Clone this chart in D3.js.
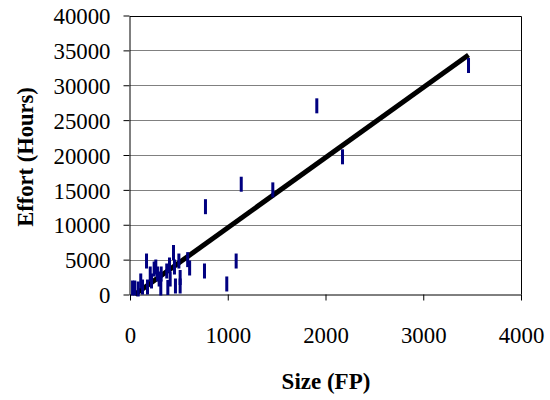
<!DOCTYPE html>
<html><head><meta charset="utf-8">
<script src="https://cdn.jsdelivr.net/npm/d3@7/dist/d3.min.js"></script>
<style>body{margin:0;background:#fff}svg{display:block}</style>
</head><body><svg id="c" width="550" height="400"></svg>
<script>
const sizeFP = [26,49,84,110,128,169,179,207,220,247,264,281,298,315,319,376,387,404,411,445,455,465,500,513,513,590,610,762,772,990,1086,1138,1461,1911,2174,3463];
const effortHours = [930,930,790,1940,1070,4800,1070,2940,1940,3650,3940,2940,2220,930,2940,3370,1000,4230,2220,6020,3940,1220,4800,2440,1220,5000,3800,3370,12590,1510,4800,15810,15000,27050,19740,32830];
const trendX = [49, 3463];
const trendY = [0, 34340];
const xTicks = [0,1000,2000,3000,4000];
const yTicks = [0,5000,10000,15000,20000,25000,30000,35000,40000];
const xTitle = "Size (FP)", yTitle = "Effort (Hours)";

const FONT = "'Liberation Serif'";
const svg = d3.select("#c");
const L=130, R=521, T=15.5, B=294.5;
const x = d3.scaleLinear().domain([0,4000]).range([L,R]);
const y = d3.scaleLinear().domain([0,40000]).range([B,T]);

svg.append("g").selectAll("line").data(yTicks.filter(d=>d>0&&d<40000)).join("line")
  .attr("x1",L).attr("x2",R).attr("y1",d=>Math.round(y(d))+0.5).attr("y2",d=>Math.round(y(d))+0.5)
  .attr("stroke","#808080").attr("stroke-width",1);
svg.append("path").attr("d",`M${L},${Math.round(T)+0.5}H${R+0.5}V${B}`).attr("fill","none").attr("stroke","#000");

const xa = svg.append("g").attr("transform",`translate(0,${B})`)
  .call(d3.axisBottom(x).tickValues(xTicks).tickSize(6).tickSizeOuter(0).tickFormat(d3.format("d")));
const ya = svg.append("g").attr("transform",`translate(${L-0.5},0)`)
  .call(d3.axisLeft(y).tickValues(yTicks).tickSize(6).tickSizeOuter(0).tickFormat(d3.format("d")));
[xa,ya].forEach(g=>{g.attr("font-family",null).attr("font-size",null);
  g.select(".domain").attr("stroke","#000");g.selectAll(".tick line").attr("stroke","#000");
  g.selectAll("text").style("font-family",FONT).style("font-size","22.8px").attr("fill","#000");});
xa.selectAll(".tick text").attr("y",0).attr("dy",0).attr("transform","translate(0,48.5)");
ya.selectAll(".tick text").attr("x",-19).attr("dy","0.36em");

svg.append("line").attr("x1",x(trendX[0])).attr("y1",y(trendY[0])).attr("x2",x(trendX[1])).attr("y2",y(trendY[1]))
  .attr("stroke","#000").attr("stroke-width",5);

svg.append("g").selectAll("rect").data(sizeFP.map((s,i)=>[s,effortHours[i]])).join("rect")
  .attr("x",d=>x(d[0])-1.5).attr("y",d=>y(d[1])-7.5).attr("width",3).attr("height",15).attr("fill","#000080");

svg.append("text").attr("x",326).attr("y",389).attr("text-anchor","middle").style("font-family",FONT).style("font-weight","bold").style("font-size","23px").text(xTitle);
svg.append("text").attr("transform","translate(33,157) rotate(-90)").attr("text-anchor","middle").style("font-family",FONT).style("font-weight","bold").style("font-size","22.5px").text(yTitle);
</script></body></html>
